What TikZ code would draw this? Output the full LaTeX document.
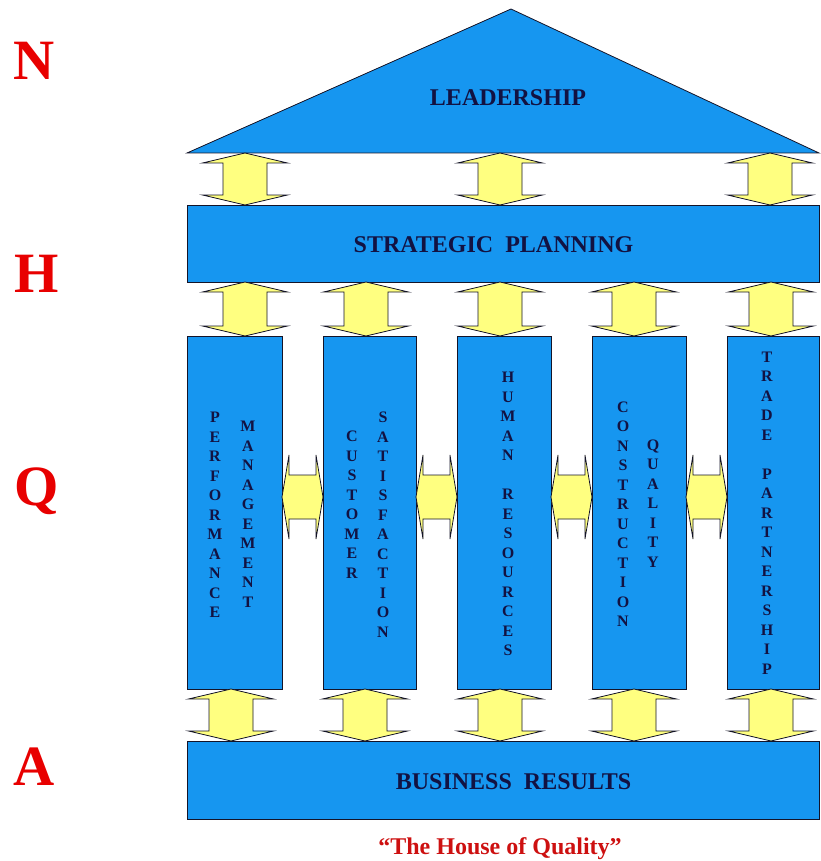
\documentclass[tikz,border=0pt]{standalone}
\usepackage{fontspec}
\setmainfont{Liberation Serif}
\usetikzlibrary{calc}
\definecolor{hblue}{RGB}{22,150,240}
\definecolor{hyellow}{RGB}{255,255,128}
\definecolor{hnavy}{RGB}{18,18,66}
\definecolor{hred}{RGB}{232,0,0}
\definecolor{hcap}{RGB}{205,16,16}
\definecolor{hline}{RGB}{20,20,40}
\tikzset{
  blk/.style={draw=hline, fill=hblue, line width=0.8pt, inner sep=0pt, outer sep=0pt, anchor=north west},
  yarrow/.style={draw=hline, fill=hyellow, line width=0.8pt, line join=miter},
  btext/.style={font=\fontsize{24}{28}\selectfont\bfseries, text=hnavy, inner sep=0pt},
  ptext/.style={font=\fontsize{16}{19.5}\selectfont\bfseries, text=hnavy, align=center, inner sep=0pt},
  side/.style={font=\fontsize{57}{60}\selectfont\bfseries, text=hred, inner sep=0pt, anchor=base west},
}
% vertical double arrow: x, upper anchor, lower anchor
\newcommand\varr[3]{\draw[yarrow] let \p1=(#2), \p2=(#3) in
  (#1pt,\y1) -- (#1pt+42.5pt,\y1-10pt) -- (#1pt+22pt,\y1-10pt) -- (#1pt+22pt,\y2+10pt)
  -- (#1pt+42.5pt,\y2+10pt) -- (#1pt,\y2) -- (#1pt-42.5pt,\y2+10pt) -- (#1pt-22pt,\y2+10pt)
  -- (#1pt-22pt,\y1-10pt) -- (#1pt-42.5pt,\y1-10pt) -- cycle;}
% horizontal double arrow: y, left anchor, right anchor
\newcommand\harr[3]{\draw[yarrow] let \p1=(#2), \p2=(#3) in
  (\x1,-#1pt) -- (\x1+7pt,-#1pt+42pt) -- (\x1+7pt,-#1pt+22pt) -- (\x2-7pt,-#1pt+22pt)
  -- (\x2-7pt,-#1pt+42pt) -- (\x2,-#1pt) -- (\x2-7pt,-#1pt-42pt) -- (\x2-7pt,-#1pt-22pt)
  -- (\x1+7pt,-#1pt-22pt) -- (\x1+7pt,-#1pt-42pt) -- cycle;}
\begin{document}
\begin{tikzpicture}[x=1pt,y=-1pt]
\useasboundingbox (0,0) rectangle (820,861);
% roof
\coordinate (roofL) at (187,153);
\coordinate (roofR) at (819,153);
\coordinate (apex) at (511,9);
\draw[draw=hline, fill=hblue, line width=0.8pt] (roofL) -- (apex) -- (roofR) -- cycle;
\node[btext] (lead) at (508,98) {LEADERSHIP};
% strategic planning
\node[blk, minimum width=632, minimum height=77] (sp) at (187,205) {};
\node[btext] (spt) at (493.5,245) {STRATEGIC\ \ PLANNING};
% pillars
\node[blk, minimum width=95, minimum height=353] (p1) at (187,336) {};
\node[blk, minimum width=93, minimum height=353] (p2) at (323,336) {};
\node[blk, minimum width=94, minimum height=353] (p3) at (457,336) {};
\node[blk, minimum width=94, minimum height=353] (p4) at (592,336) {};
\node[blk, minimum width=92, minimum height=353] (p5) at (727,336) {};
% business results
\node[blk, minimum width=632, minimum height=78] (br) at (187,741) {};
\node[btext] (brt) at (513.5,782) {BUSINESS\ \ RESULTS};
% pillar texts
\node[ptext] (t1a) at (215,515) {P\\E\\R\\F\\O\\R\\M\\A\\N\\C\\E};
\node[ptext] (t1b) at (248,514.5) {M\\A\\N\\A\\G\\E\\M\\E\\N\\T};
\node[ptext] (t2a) at (352,504.5) {C\\U\\S\\T\\O\\M\\E\\R};
\node[ptext] (t2b) at (383,524.5) {S\\A\\T\\I\\S\\F\\A\\C\\T\\I\\O\\N};
\node[ptext] (t3) at (508,514) {H\\U\\M\\A\\N\\[19.5pt]R\\E\\S\\O\\U\\R\\C\\E\\S};
\node[ptext] (t4a) at (623,514) {C\\O\\N\\S\\T\\R\\U\\C\\T\\I\\O\\N};
\node[ptext] (t4b) at (653,503.5) {Q\\U\\A\\L\\I\\T\\Y};
\node[ptext] (t5) at (767,513) {T\\R\\A\\D\\E\\[19.5pt]P\\A\\R\\T\\N\\E\\R\\S\\H\\I\\P};
% arrows roof - strategic
\varr{245}{roofL}{sp.north}
\varr{500}{roofL}{sp.north}
\varr{770}{roofL}{sp.north}
% arrows strategic - pillars
\varr{245}{sp.south}{p1.north}
\varr{366}{sp.south}{p2.north}
\varr{500}{sp.south}{p3.north}
\varr{634}{sp.south}{p4.north}
\varr{771}{sp.south}{p5.north}
% arrows pillars - business
\varr{231}{p1.south}{br.north}
\varr{365}{p2.south}{br.north}
\varr{500}{p3.south}{br.north}
\varr{634}{p4.south}{br.north}
\varr{771}{p5.south}{br.north}
% arrows between pillars
\harr{497}{p1.east}{p2.west}
\harr{497}{p2.east}{p3.west}
\harr{497}{p3.east}{p4.west}
\harr{497}{p4.east}{p5.west}
% side letters
\node[side] (lN) at (13,80) {N};
\node[side] (lH) at (14,292) {H};
\node[side] (lQ) at (14,505) {Q};
\node[side] (lA) at (13,785) {A};
% caption
\node[font=\fontsize{24}{28}\selectfont\bfseries, text=hcap, inner sep=0pt, anchor=base] (cap) at (500,854) {“The House of Quality”};
\end{tikzpicture}
\end{document}
